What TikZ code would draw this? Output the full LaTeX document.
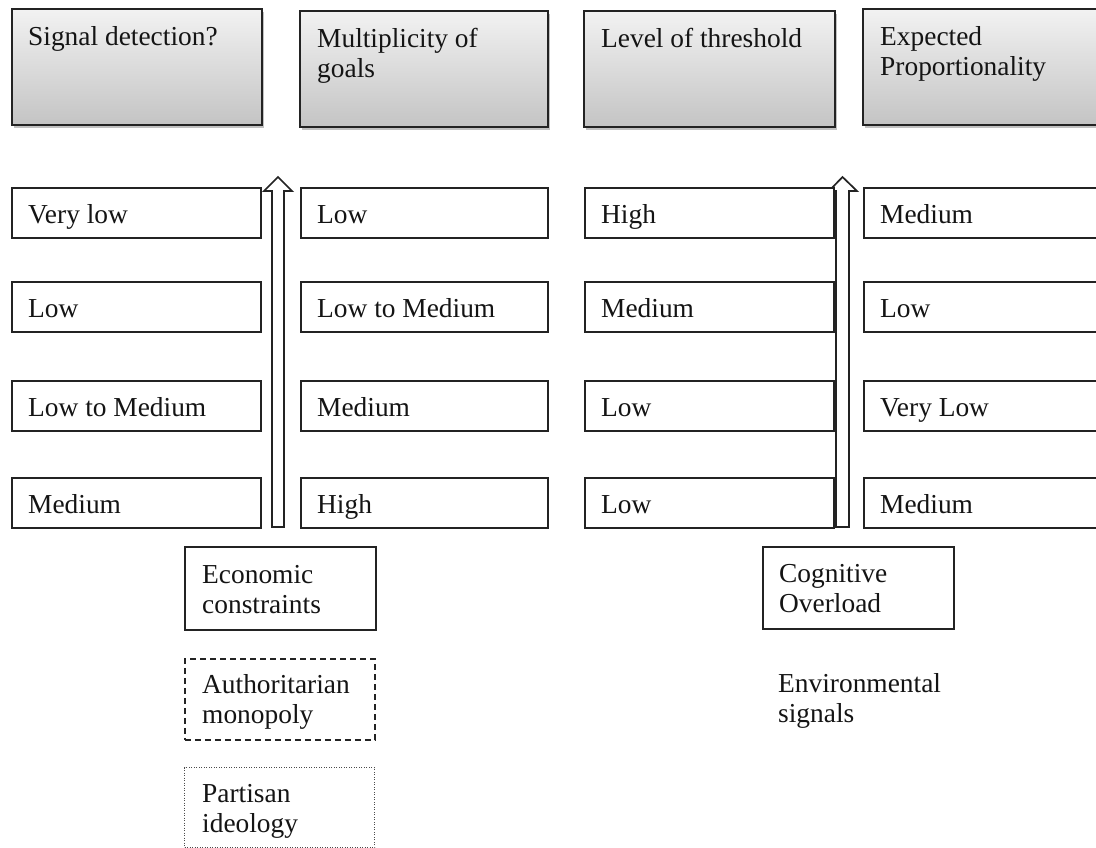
\documentclass[tikz,border=0pt]{standalone}
\usepackage{fontspec}
\setmainfont{Liberation Serif}
\usetikzlibrary{shadows}
\definecolor{edge}{RGB}{35,35,35}
\definecolor{htop}{RGB}{242,242,242}
\definecolor{hbot}{RGB}{196,196,196}
\tikzset{
  hdrbox/.style={draw=edge, line width=1.7bp, anchor=north west, inner sep=0,
    minimum width=250bp, minimum height=116bp, top color=htop, bottom color=hbot,
    drop shadow={shadow xshift=2.5bp, shadow yshift=-3bp, opacity=0.4, fill=black!60}},
  valbox/.style={draw=edge, line width=1.7bp, anchor=north west, inner sep=0,
    minimum width=249bp, minimum height=50bp, fill=white},
  factbox/.style={draw=edge, line width=1.7bp, anchor=north west, inner sep=0,
    minimum width=191bp, minimum height=83bp},
  lbl/.style={anchor=base west, inner sep=0, font=\fontsize{27.5}{30}\selectfont, align=left, text=black!92},
  blockarrow/.style={draw=edge, line width=1.7bp, fill=white, line join=miter},
}
\begin{document}
\begin{tikzpicture}[x=1bp, y=-1bp]
\clip (0,0) rectangle (1096,848);
\fill[white] (0,0) rectangle (1096,848);

% header boxes
\node[hdrbox] (h1) at (11,8) {};
\node[hdrbox, minimum width=248bp] (h2) at (299,10) {};
\node[hdrbox, minimum width=251bp] (h3) at (583,10) {};
\node[hdrbox] (h4) at (862,8) {};
\node[lbl] (th1) at ([xshift=17bp, yshift=-37bp]h1.north west) {Signal detection?};
\node[lbl] (th2) at ([xshift=18bp, yshift=-67bp]h2.north west) {Multiplicity of\\goals};
\node[lbl] (th3) at ([xshift=18bp, yshift=-37bp]h3.north west) {Level of threshold};
\node[lbl] (th4) at ([xshift=18bp, yshift=-67bp]h4.north west) {Expected\\Proportionality};

% block arrows
\draw[blockarrow] (272,527) -- (272,191) -- (264,191) -- (278,177) -- (292,191) -- (284,191) -- (284,527) -- cycle;
\draw[blockarrow] (836,527) -- (836,191) -- (829,191) -- (842.5,177) -- (857,191) -- (849,191) -- (849,527) -- cycle;

% value boxes: columns
\foreach \c/\x/\w in {1/11/249, 2/300/247, 3/584/249, 4/863/249} {
  \foreach \r/\y in {1/187, 2/281, 3/380, 4/477} {
    \node[valbox, minimum width=\w bp] (v\c\r) at (\x,\y) {};
  }
}
% column 1
\node[lbl] at ([xshift=17bp, yshift=-36bp]v11.north west) {Very low};
\node[lbl] at ([xshift=17bp, yshift=-36bp]v12.north west) {Low};
\node[lbl] at ([xshift=17bp, yshift=-36bp]v13.north west) {Low to Medium};
\node[lbl] at ([xshift=17bp, yshift=-36bp]v14.north west) {Medium};
% column 2
\node[lbl] at ([xshift=17bp, yshift=-36bp]v21.north west) {Low};
\node[lbl] at ([xshift=17bp, yshift=-36bp]v22.north west) {Low to Medium};
\node[lbl] at ([xshift=17bp, yshift=-36bp]v23.north west) {Medium};
\node[lbl] at ([xshift=17bp, yshift=-36bp]v24.north west) {High};
% column 3
\node[lbl] at ([xshift=17bp, yshift=-36bp]v31.north west) {High};
\node[lbl] at ([xshift=17bp, yshift=-36bp]v32.north west) {Medium};
\node[lbl] at ([xshift=17bp, yshift=-36bp]v33.north west) {Low};
\node[lbl] at ([xshift=17bp, yshift=-36bp]v34.north west) {Low};
% column 4
\node[lbl] at ([xshift=17bp, yshift=-36bp]v41.north west) {Medium};
\node[lbl] at ([xshift=17bp, yshift=-36bp]v42.north west) {Low};
\node[lbl] at ([xshift=17bp, yshift=-36bp]v43.north west) {Very Low};
\node[lbl] at ([xshift=17bp, yshift=-36bp]v44.north west) {Medium};

% factor boxes
\node[factbox] (econ) at (184,546) {};
\node[lbl] at ([xshift=18bp, yshift=-67bp]econ.north west) {Economic\\constraints};
\node[factbox, minimum width=190bp, minimum height=81bp, dash pattern=on 6bp off 4bp, line width=1.5bp] (auth) at (184,658) {};
\node[lbl] at ([xshift=18bp, yshift=-65bp]auth.north west) {Authoritarian\\monopoly};
\node[factbox, minimum width=190bp, minimum height=80bp, dash pattern=on 1bp off 1.5bp, line width=1.1bp, draw=black!70] (part) at (184,767) {};
\node[lbl] at ([xshift=18bp, yshift=-65bp]part.north west) {Partisan\\ideology};

\node[factbox, minimum height=82bp] (cog) at (762,546) {};
\node[lbl] at ([xshift=17bp, yshift=-66bp]cog.north west) {Cognitive\\Overload};
\node[lbl] (env) at (778,722) {Environmental\\signals};
\end{tikzpicture}
\end{document}
